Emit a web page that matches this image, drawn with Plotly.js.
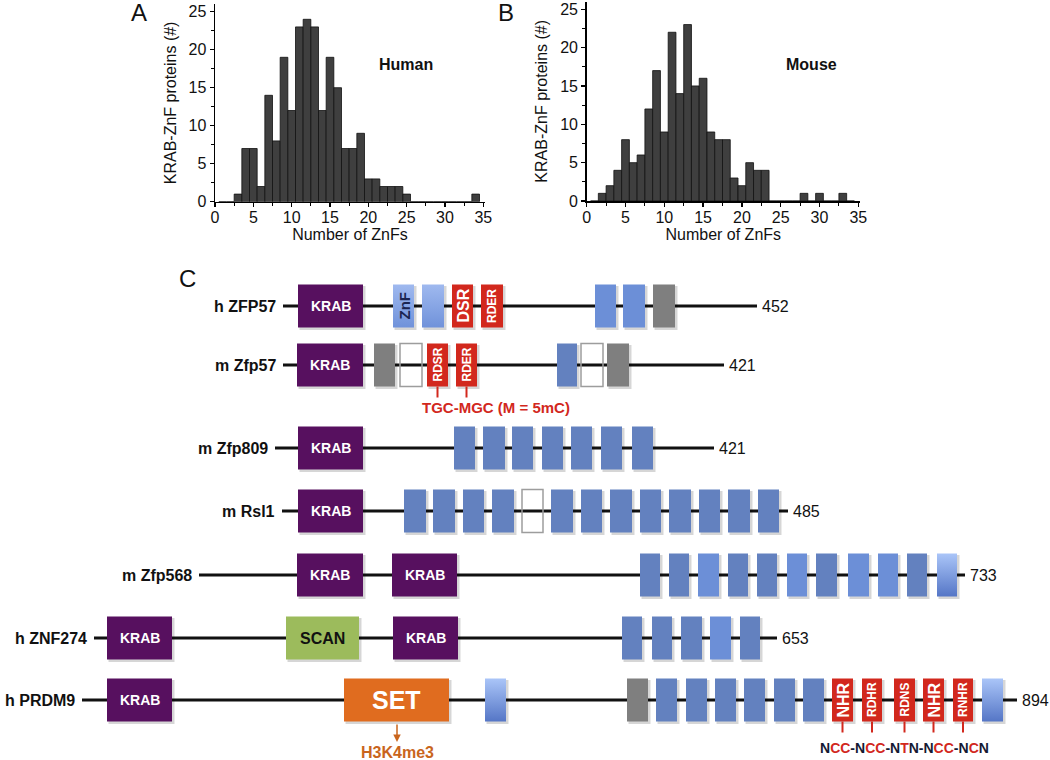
<!DOCTYPE html>
<html>
<head>
<meta charset="utf-8">
<script src="https://cdn.plot.ly/plotly-3.0.1.min.js"></script>
<style>html,body{margin:0;padding:0;background:#fff;}#chart{width:1050px;height:760px;}</style>
</head>
<body>
<div id="chart"></div>
<script>
// ---------- Panel A / B data: number of KRAB-ZnF proteins per ZnF count ----------
const znfNumber = [1,2,3,4,5,6,7,8,9,10,11,12,13,14,15,16,17,18,19,20,21,22,23,24,25,26,27,28,29,30,31,32,33,34];
const humanCount = [0,0,1,7,7,2,14,8,19,12,23,24,23,12,19,15,7,7,9,3,3,2,2,2,1,0,0,0,0,0,0,0,0,1];
const mouseCount = [0,1,2,4,8,5,6,12,17,9,22,14,23,15,16,9,8,8,3,2,5,4,4,0,0,0,0,1,0,1,0,0,1,0];

// ---------- Panel C data: domain schematics (schematic coordinate units) ----------
const proteinNames = ['h ZFP57','m Zfp57','m Zfp809','m Rsl1','m Zfp568','h ZNF274','h PRDM9'];
const proteinLengths = ['452','421','421','485','733','653','894'];
const rowCenter = [306,365,448,511,575,638,700];
const lineStart = [283,283,275,282,199,94,82];
const lineEnd = [757,724,714,788,965,777,1017];
// K=KRAB, S=SCAN, T=SET, Z=ZnF, L=ZnF (light), G=ZnF (graded), X=degenerate ZnF, E=missing ZnF, R=DNA-contact ZnF
const domainKind = [
  ['K','G','G','R','R','L','L','X'],
  ['K','X','E','R','R','Z','E','X'],
  ['K','Z','Z','Z','Z','Z','Z','Z'],
  ['K','Z','Z','Z','Z','E','Z','Z','Z','Z','Z','Z','Z','Z'],
  ['K','K','Z','Z','L','Z','Z','L','Z','L','L','Z','G'],
  ['K','S','K','Z','Z','Z','L','Z'],
  ['K','T','G','X','Z','Z','Z','Z','Z','Z','R','R','R','R','R','G']
];
const domainStart = [
  [298,393,422,452,481,595,623,653],
  [297,374,400,427,456,557,581,607],
  [298,454,483,512,542,571,601,632],
  [298,404,433,463,492,522,551,581,610,640,669,699,728,758],
  [297,392,640,669,698,728,757,787,816,848,878,907,937],
  [107,286,393,622,652,681,710,740],
  [107,344,485,627,656,686,715,744,774,803,832,862,894,923,953,982]
];
const domainEnd = [
  [363,414,444,473,503,616,645,675],
  [363,395,422,448,477,577,603,629],
  [363,475,505,533,563,592,622,653],
  [363,426,455,484,514,543,573,602,632,661,691,720,750,779],
  [363,457,660,689,719,748,777,807,837,869,898,927,957],
  [172,359,458,642,672,702,731,760],
  [172,449,506,648,677,707,736,765,795,824,853,882,915,944,973,1003]
];
const domainLabel = [
  ['KRAB','ZnF','','DSR','RDER','','',''],
  ['KRAB','','','RDSR','RDER','','',''],
  ['KRAB','','','','','','',''],
  ['KRAB','','','','','','','','','','','','',''],
  ['KRAB','KRAB','','','','','','','','','','',''],
  ['KRAB','SCAN','KRAB','','','','',''],
  ['KRAB','SET','','','','','','','','','NHR','RDHR','RDNS','NHR','RNHR','']
];
const motifRows = [1, 6];
const motifText = [
  'TGC-MGC (M = 5mC)',
  'N<span style="color:#d2281d">CC</span>-N<span style="color:#d2281d">CC</span>-N<span style="color:#d2281d">T</span>N-N<span style="color:#d2281d">CC</span>-N<span style="color:#d2281d">C</span>N'
];
const setProduct = 'H3K4me3';

// ---------- styling ----------
const FONT = 'Liberation Sans, Arial, Helvetica, sans-serif';
const RED = '#d2281d';
const fillOf = {K:'#57105f', S:'#9cbb5c', T:'#e06c1f', Z:'#6381bf', L:'#6c8fd7', X:'#7f7f7f', R:RED};
const boxHalf = 21.5;

const traces = [];
function hist(xs, ys, xa, ya) {
  return {type:'bar', x:xs, y:ys, xaxis:xa, yaxis:ya, width:1,
    marker:{color:'#3f3f3f', line:{color:'#111', width:0.8}}, hoverinfo:'skip'};
}
traces.push(hist(znfNumber, humanCount, 'x', 'y'));
traces.push(hist(znfNumber, mouseCount, 'x2', 'y2'));

const shapes = [];
const annotations = [];
const R3 = {xref:'x3', yref:'y3'};

for (let r = 0; r < proteinNames.length; r++) {
  const yc = rowCenter[r];
  shapes.push(Object.assign({type:'line', x0:lineStart[r], x1:lineEnd[r], y0:yc, y1:yc,
    line:{color:'#111', width:3}, layer:'below'}, R3));
  annotations.push(Object.assign({x:lineStart[r]-5, y:yc, text:'<b>'+proteinNames[r]+'</b>', showarrow:false,
    xanchor:'right', yanchor:'middle', font:{size:16, color:'#111', family:FONT}}, R3));
  annotations.push(Object.assign({x:lineEnd[r]+3, y:yc, text:proteinLengths[r], showarrow:false,
    xanchor:'left', yanchor:'middle', font:{size:16, color:'#111', family:FONT}}, R3));

  const kinds = domainKind[r];
  for (let d = 0; d < kinds.length; d++) {
    const k = kinds[d];
    const x0 = domainStart[r][d], x1 = domainEnd[r][d];
    const y0 = yc - boxHalf, y1 = yc + boxHalf;
    if (k !== 'E') {
      shapes.push(Object.assign({type:'rect', x0:x0+1.5, x1:x1+2.5, y0:y0+1.5, y1:y1+2.5,
        fillcolor:'rgba(0,0,0,0.16)', line:{width:0}, layer:'below'}, R3));
    }
    if (k === 'G') {
      traces.push({type:'scatter', xaxis:'x3', yaxis:'y3', mode:'lines',
        x:[x0,x1,x1,x0,x0], y:[y0,y0,y1,y1,y0], line:{width:0}, fill:'toself',
        fillgradient:{type:'vertical', start:y0, stop:y1,
          colorscale:[[0, r===0 ? '#9fb9ef' : '#aac5f8'],[1, r===0 ? '#7092da' : '#5576c6']]},
        hoverinfo:'skip'});
    } else if (k === 'E') {
      shapes.push(Object.assign({type:'rect', x0:x0, x1:x1, y0:y0, y1:y1,
        fillcolor:'rgba(0,0,0,0)', line:{color:'#9d9d9d', width:1.5}}, R3));
    } else {
      shapes.push(Object.assign({type:'rect', x0:x0, x1:x1, y0:y0, y1:y1,
        fillcolor:fillOf[k], line:{width:0}}, R3));
    }
    const lab = domainLabel[r][d];
    if (lab) {
      let size = 14, color = '#fff', angle = 0;
      if (k === 'S') { size = 16; color = '#111'; }
      if (k === 'T') { size = 25; }
      if (k === 'R') { angle = -90; size = (lab.length === 3) ? 16 : 12; }
      if (k === 'G') { angle = -90; size = 15; color = '#1b2550'; }
      annotations.push(Object.assign({x:(x0+x1)/2, y:yc, text:'<b>'+lab+'</b>', showarrow:false,
        textangle:angle, xanchor:'center', yanchor:'middle', font:{size:size, color:color, family:FONT}}, R3));
    }
  }
}

// stems from DNA-contact fingers to the motif
motifRows.forEach((r) => {
  const yc = rowCenter[r];
  domainKind[r].forEach((k, d) => {
    if (k === 'R') {
      const xm = (domainStart[r][d] + domainEnd[r][d]) / 2;
      shapes.push(Object.assign({type:'line', x0:xm, x1:xm, y0:yc+boxHalf, y1:yc+boxHalf+11,
        line:{color:RED, width:2}}, R3));
    }
  });
});
annotations.push(Object.assign({x:420, y:407, text:'<b>'+motifText[0]+'</b>', showarrow:false,
  xanchor:'left', yanchor:'middle', font:{size:15, color:RED, family:FONT}}, R3));
annotations.push(Object.assign({x:904, y:748, text:'<b>'+motifText[1]+'</b>', showarrow:false,
  xanchor:'center', yanchor:'middle', font:{size:14, color:'#151a33', family:FONT}}, R3));

// SET arrow and product
annotations.push(Object.assign({x:397, y:742, ax:397, ay:723, axref:'x3', ayref:'y3', text:'',
  showarrow:true, arrowhead:2, arrowsize:1, arrowwidth:1.5, arrowcolor:'#c9651c'}, R3));
annotations.push(Object.assign({x:397, y:752, text:'<b>'+setProduct+'</b>', showarrow:false,
  xanchor:'center', yanchor:'middle', font:{size:16, color:'#c9651c', family:FONT}}, R3));

// panel letters and species labels
const paperAnn = (x, y, text, size, bold) => ({xref:'paper', yref:'paper', x:x/1050, y:1-y/760,
  text: bold ? '<b>'+text+'</b>' : text, showarrow:false, xanchor:'center', yanchor:'middle',
  font:{size:size, color:'#111', family:FONT}});
annotations.push(paperAnn(139, 13, 'A', 24, false));
annotations.push(paperAnn(506, 13, 'B', 24, false));
annotations.push(paperAnn(187, 278, 'C', 24, false));
annotations.push(paperAnn(406, 65, 'Human', 16, true));
annotations.push(paperAnn(811, 64, 'Mouse', 16, true));

function histX(x0px, pxPerUnit) {
  return {domain:[x0px/1050, (x0px + 35.2*pxPerUnit)/1050], range:[0,35.2], showline:true,
    linecolor:'#000', linewidth:1.5, ticks:'outside', ticklen:4, tickwidth:1.2, tickcolor:'#000',
    tick0:0, dtick:5, minor:{dtick:2.5, ticks:'outside', ticklen:3, tickcolor:'#000', tickwidth:1},
    ticklabelstandoff:-3,
    showgrid:false, zeroline:false, tickfont:{size:16, color:'#111', family:FONT},
    title:{text:'Number of ZnFs', font:{size:16, color:'#111', family:FONT}, standoff:2}, fixedrange:true};
}
function histY(y0px, pxPerUnit) {
  return {domain:[1 - y0px/760, 1 - (y0px - 26*pxPerUnit)/760], range:[0,26], showline:true,
    linecolor:'#000', linewidth:1.5, ticks:'outside', ticklen:4, tickwidth:1.2, tickcolor:'#000',
    tick0:0, dtick:5, minor:{dtick:2.5, ticks:'outside', ticklen:3, tickcolor:'#000', tickwidth:1},
    showgrid:false, zeroline:false, tickfont:{size:16, color:'#111', family:FONT},
    title:{text:'KRAB-ZnF proteins (#)', font:{size:16, color:'#111', family:FONT}, standoff:8}, fixedrange:true};
}

const layout = {
  width:1050, height:760, margin:{l:0, r:0, t:0, b:0},
  paper_bgcolor:'#fff', plot_bgcolor:'rgba(0,0,0,0)', showlegend:false, bargap:0,
  font:{family:FONT, color:'#111'},
  xaxis: Object.assign(histX(215, 7.667), {anchor:'y'}),
  yaxis: Object.assign(histY(201.7, 7.6), {anchor:'x'}),
  xaxis2: Object.assign(histX(586.7, 7.76), {anchor:'y2'}),
  yaxis2: Object.assign(histY(201, 7.67), {anchor:'x2'}),
  xaxis3: {domain:[0,1], range:[0,1050], visible:false, anchor:'y3', fixedrange:true},
  yaxis3: {domain:[0,1], range:[760,0], visible:false, anchor:'x3', fixedrange:true},
  shapes: shapes,
  annotations: annotations
};

Plotly.newPlot('chart', traces, layout, {displayModeBar:false, staticPlot:true});
</script>
</body>
</html>
